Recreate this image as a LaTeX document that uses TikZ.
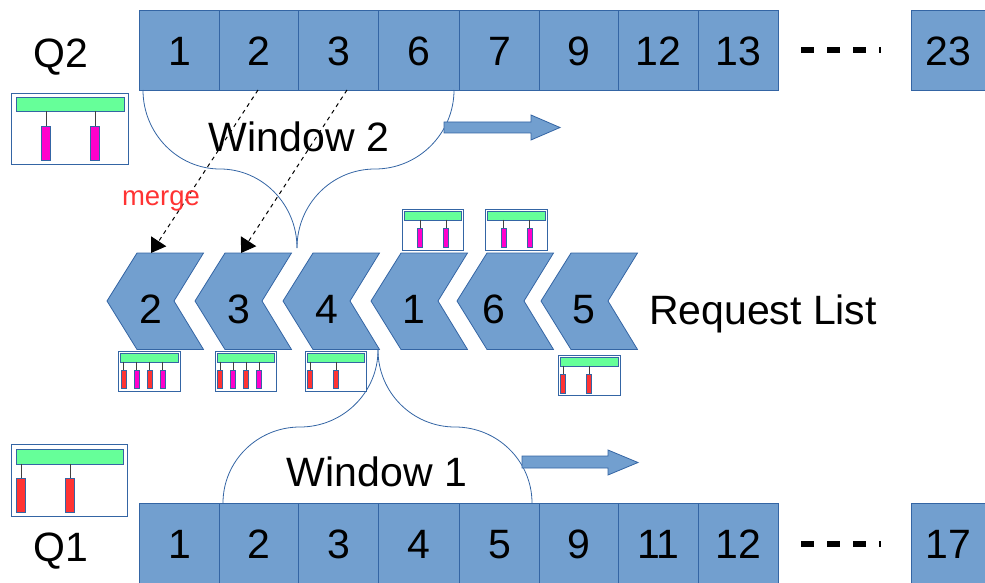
\documentclass[tikz,border=0pt]{standalone}
\usepackage{fontspec}
\setmainfont{Liberation Sans}
\usetikzlibrary{arrows.meta}
\definecolor{cellfill}{HTML}{729FCF}
\definecolor{celledge}{HTML}{3465A4}
\definecolor{barmint}{HTML}{66FF99}
\definecolor{barpink}{HTML}{FF00CC}
\definecolor{barred}{HTML}{FF3333}
\newcommand{\bigtxt}{\fontsize{41}{45}\selectfont}
\tikzset{
  cell/.style={draw=celledge,fill=cellfill,line width=.8pt,inner sep=0pt,minimum height=80pt,
    anchor=north west,text height=30pt,text depth=0pt,font=\bigtxt},
  chevron/.style={draw=celledge,fill=cellfill,line width=.8pt},
  biglabel/.style={font=\bigtxt,inner sep=0pt,anchor=base},
  boxframe/.style={draw=celledge,fill=white,line width=.9pt,inner sep=0pt},
  greenbar/.style={draw=celledge,fill=barmint,line width=.7pt,inner sep=0pt},
  stem/.style={draw=black!75,line width=1pt},
  windowline/.style={draw=celledge,line width=.8pt},
  mergearrow/.style={black,line width=1pt,dash pattern=on 4pt off 4pt,-{Triangle[length=14pt,width=18pt]}},
  ellipsis/.style={black,line width=6pt,dash pattern=on 13pt off 13pt},
  bigarrow/.style={draw=celledge,fill=cellfill,line width=.8pt}
}
% name, x0,y0,x1,y1, green inset, green height, bars (x/colour/width/top/bottom)
\newcommand{\glyph}[8]{%
  \node[boxframe,minimum width=#4pt-#2pt,minimum height=#5pt-#3pt,anchor=north west] (#1) at (#2,#3) {};
  \node[greenbar,minimum width=#4pt-#2pt-#6pt,minimum height=#7pt,anchor=north] (#1g) at ({(#2+#4)/2+.5},{#3+#6/2}) {};
  \foreach \bx/\bc/\bw/\by/\be in {#8}{
    \draw[stem] (\bx,{#3+#6/2+#7}) -- (\bx,\by);
    \draw[draw=celledge,fill=\bc,line width=.7pt] ({\bx-\bw/2},\by) rectangle ({\bx+\bw/2},\be);
  }
}
\begin{document}
\begin{tikzpicture}[x=1pt,y=-1pt]
\useasboundingbox (0,0) rectangle (985,583);
% queues
\foreach \n/\x/\w/\t in {a/139/80/1,b/219/79/2,c/298/80/3,d/378/81/6,e/459/80/7,f/539/79/9,g/618/80/12,h/698/80/13,i/911/74/23}
  \node[cell,minimum width=\w pt] (top\n) at (\x,10) {\t};
\foreach \n/\x/\w/\t in {a/139/80/1,b/219/79/2,c/298/80/3,d/378/81/4,e/459/80/5,f/539/79/9,g/618/80/11,h/698/80/12,i/911/74/17}
  \node[cell,minimum width=\w pt] (bot\n) at (\x,503) {\t};
\node[biglabel] (q2) at (61,68) {Q2};
\node[biglabel] (q1) at (61,561) {Q1};
% ellipses
\coordinate (dt1) at (801,50); \coordinate (dt2) at (881,50);
\coordinate (db1) at (801,544); \coordinate (db2) at (881,544);
\draw[ellipsis] (dt1) -- (dt2);
\draw[ellipsis] (db1) -- (db2);
% chevrons
\foreach \n/\x/\lx/\t in {p/107/150.5/2,q/195/238.5/3,r/283/326.5/4,s/371/414/1,t/457/493.5/6,u/541/583.5/5}{
  \draw[chevron] (\x,301) -- ({\x+30},253) -- ({\x+96.5},253) -- ({\x+67},301) -- ({\x+96.5},349.5) -- ({\x+30},349.5) -- cycle;
  \node[biglabel] (chev\n) at (\lx,323) {\t};
}
\node[biglabel] (reqlist) at (763,324) {Request List};
% window curves
\draw[windowline] (143,90) .. controls (143,133.5) and (177.6,169) .. (220,169)
  .. controls (262.4,169) and (297,204.5) .. (297,248);
\draw[windowline] (454,90) .. controls (454,133.5) and (418.5,169) .. (375,169)
  .. controls (331.5,169) and (297,204.5) .. (297,248);
\draw[windowline] (378,350) .. controls (378,392.5) and (343,427) .. (300,427)
  .. controls (257.5,427) and (223,461) .. (223,503);
\draw[windowline] (378,350) .. controls (378,392.5) and (412.5,427) .. (455,427)
  .. controls (497.5,427) and (532,461) .. (532,503);
\node[biglabel] (win2) at (299,151) {Window 2};
\node[biglabel] (win1) at (377,486) {Window 1};
% moving arrows
\draw[bigarrow] (444,122) -- (531,122) -- (531,115) -- (560,127.5) -- (531,140) -- (531,133) -- (444,133) -- cycle;
\draw[bigarrow] (522,456) -- (608,456) -- (608,450) -- (638,462.5) -- (608,475) -- (608,468) -- (522,468) -- cycle;
% request glyphs
\glyph{gq}{11}{93}{128}{164}{9}{14}{46/barpink/9/126/160,95/barpink/9/126/160}
\glyph{gp}{11}{444}{127}{516}{9}{15}{21/barred/9/478/512,70/barred/9/478/512}
\glyph{ga}{118}{351}{180}{391}{4}{8.5}{123.5/barred/5/370/388,136.5/barpink/5/370/388,149.5/barred/5/370/388,162.5/barpink/5/370/388}
\glyph{gb}{215}{351}{276}{391}{4}{8.5}{220/barred/5/370/388,233/barpink/5/370/388,246/barred/5/370/388,259/barpink/5/370/388}
\glyph{gc}{305}{351}{366}{391}{4}{8.5}{310/barred/5/370/388,336/barred/5/370/388}
\glyph{gd}{402}{209}{463}{249.5}{4}{8.5}{420/barpink/5/228/247,446/barpink/5/228/247}
\glyph{ge}{485}{209}{547}{249.5}{4}{8.5}{503.5/barpink/5/228/247,529.5/barpink/5/228/247}
\glyph{gf}{558}{355}{620}{395}{4}{8.5}{563/barred/5/374/393,589/barred/5/374/393}
% merge arrows
\coordinate (m1s) at (258,90); \coordinate (m1e) at (151,253);
\coordinate (m2s) at (347,90); \coordinate (m2e) at (241,253);
\draw[mergearrow] (m1s) -- (m1e);
\draw[mergearrow] (m2s) -- (m2e);
\node[font=\fontsize{27.5}{30}\selectfont,text=barred,inner sep=0pt,anchor=base] (mergelabel) at (161,205) {merge};
\end{tikzpicture}
\end{document}
